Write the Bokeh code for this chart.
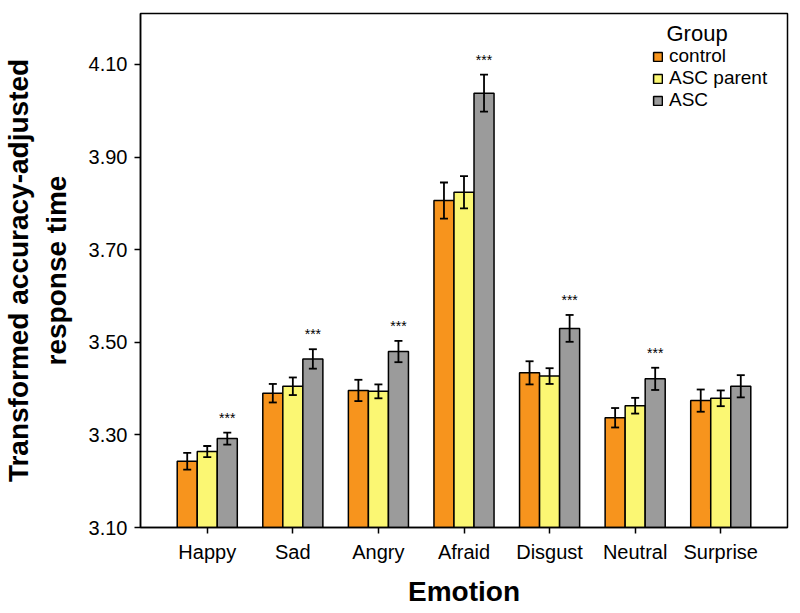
from bokeh.plotting import figure
from bokeh.models import (FactorRange, Range1d, FixedTicker, Whisker, TeeHead,
                          ColumnDataSource, Legend, LegendItem, PrintfTickFormatter, Label)
from bokeh.transform import dodge
from bokeh.embed import file_html
from bokeh.resources import INLINE
from bokeh.core.properties import value

# ---------------- data ----------------
emotions = ["Happy", "Sad", "Angry", "Afraid", "Disgust", "Neutral", "Surprise"]
groups = ["control", "ASC parent", "ASC"]

control = [3.243, 3.390, 3.396, 3.806, 3.434, 3.337, 3.374]
control_err = [0.018, 0.020, 0.023, 0.039, 0.025, 0.021, 0.024]
asc_parent = [3.264, 3.405, 3.394, 3.824, 3.427, 3.363, 3.379]
asc_parent_err = [0.012, 0.019, 0.015, 0.035, 0.017, 0.017, 0.017]
asc = [3.292, 3.464, 3.480, 4.038, 3.530, 3.421, 3.405]
asc_err = [0.013, 0.021, 0.023, 0.040, 0.029, 0.024, 0.024]
significant = [True, True, True, True, True, True, False]

y_ticks = [3.10, 3.30, 3.50, 3.70, 3.90, 4.10]
y_min, y_max = 3.10, 4.21

colors = ["#F7941D", "#FBF773", "#9B9B9B"]
offsets = [-0.234, 0.0, 0.234]
bar_w = 0.234
FONT = "Liberation Sans"

# ---------------- figure ----------------
p = figure(x_range=FactorRange(*emotions, range_padding=0.08),
           y_range=Range1d(y_min, y_max),
           width=800, height=613, output_backend="svg", toolbar_location=None,
           min_border_left=140, min_border_right=13, min_border_top=13, min_border_bottom=86)

p.xgrid.grid_line_color = None
p.ygrid.grid_line_color = None
p.outline_line_color = "black"
p.outline_line_width = 1.5
p.background_fill_color = "white"

series = [(control, control_err), (asc_parent, asc_parent_err), (asc, asc_err)]
renderers = []
for g, (vals, errs), col, off in zip(groups, series, colors, offsets):
    src = ColumnDataSource(dict(
        emotion=emotions, top=vals,
        upper=[v + e for v, e in zip(vals, errs)],
        lower=[v - e for v, e in zip(vals, errs)],
    ))
    r = p.vbar(x=dodge("emotion", off, range=p.x_range), top="top", width=bar_w,
               source=src, fill_color=col, line_color="black", line_width=1.5)
    renderers.append(r)
    w = Whisker(base=dodge("emotion", off, range=p.x_range), upper="upper", lower="lower",
                source=src, line_color="black", line_width=1.8, level="overlay",
                upper_head=TeeHead(size=8, line_width=1.8, line_color="black"),
                lower_head=TeeHead(size=8, line_width=1.8, line_color="black"))
    p.add_layout(w)

# significance stars above ASC bars
star_src = ColumnDataSource(dict(
    emotion=[e for e, s in zip(emotions, significant) if s],
    y=[v + er for v, er, s in zip(asc, asc_err, significant) if s],
))
p.text(x=dodge("emotion", offsets[2], range=p.x_range), y="y", text=value("***"),
       source=star_src, text_align="center", text_baseline="middle", y_offset=-15,
       text_font=value(FONT), text_font_size="14px", text_color="black")

# ---------------- axes ----------------
p.yaxis.ticker = FixedTicker(ticks=y_ticks)
p.yaxis.formatter = PrintfTickFormatter(format="%.2f")
for ax in (p.xaxis[0], p.yaxis[0]):
    ax.axis_line_width = 1.5
    ax.axis_line_color = "black"
    ax.major_tick_line_width = 1.5
    ax.major_tick_line_color = "black"
    ax.major_tick_in = 0
    ax.major_tick_out = 6
    ax.minor_tick_line_color = None
    ax.major_label_text_font = FONT
    ax.major_label_text_font_size = "20px"
    ax.major_label_text_color = "black"
    ax.axis_label_text_font = FONT
    ax.axis_label_text_font_style = "bold"
    ax.axis_label_text_color = "black"

p.yaxis.major_label_standoff = 7
p.yaxis.axis_label = "Transformed accuracy-adjusted\nresponse time"
p.yaxis.axis_label_text_font_size = "28px"
p.yaxis.axis_label_standoff = 14
p.xaxis.major_label_standoff = 7
p.xaxis.axis_label = "Emotion"
p.xaxis.axis_label_text_font_size = "28px"
p.xaxis.axis_label_standoff = 10

# ---------------- legend (one row per Legend for exact row pitch) ----------------
row_bottoms = [460, 438, 416]
for g, r, yb in zip(groups, renderers, row_bottoms):
    lg = Legend(items=[LegendItem(label=g, renderers=[r])], location=(512, yb),
                glyph_width=11, glyph_height=11, label_standoff=6,
                label_text_font=FONT, label_text_font_size="19px",
                label_text_color="black",
                label_height=19, spacing=0, padding=0, margin=0,
                border_line_color=None, background_fill_alpha=0)
    p.add_layout(lg)
p.add_layout(Label(x=526, y=494, x_units="screen", y_units="screen", text="Group",
                   text_font=FONT, text_font_size="22px", text_baseline="middle",
                   text_color="black"))

open("out.html", "w").write(file_html(p, INLINE))
